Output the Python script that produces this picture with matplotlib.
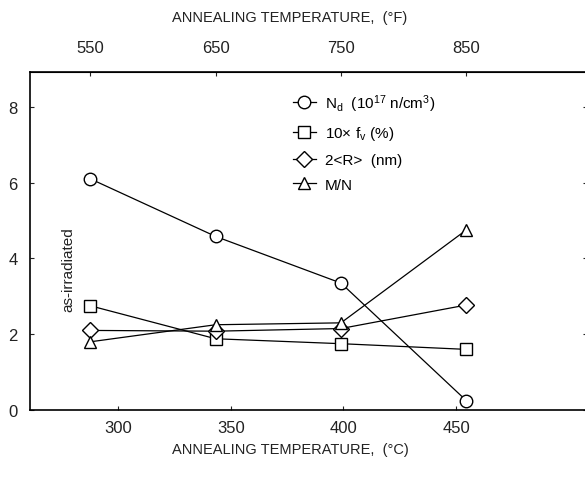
import matplotlib
matplotlib.use('Agg')
from matplotlib import pyplot as plt

plt.rcParams['font.family'] = ['Liberation Sans', 'DejaVu Sans']
plt.rcParams['mathtext.default'] = 'regular'

# annealing temperatures (deg F) -> deg C
temp_f = [550, 650, 750, 850]
temp_c = [(f - 32) * 5 / 9 for f in temp_f]

n_d = [6.1, 4.58, 3.35, 0.25]     # N_d (1e17 n/cm3)
f_v = [2.75, 1.88, 1.75, 1.6]     # 10 x f_v (%)
r_mean = [2.1, 2.08, 2.15, 2.77]  # 2<R> (nm)
m_n = [1.8, 2.25, 2.3, 4.75]      # M/N

labels = [r'N$_d$  (10$^{17}$ n/cm$^3$)', r'10$\times$ f$_v$ (%)',
          '2<R>  (nm)', 'M/N']
markers = ['o', 's', 'D', '^']
msizes = [9, 9, 8, 9]

txt = '#222222'

fig = plt.figure(figsize=(5.85, 4.81), dpi=100)
ax = fig.add_axes([30 / 585, 70 / 481, 557 / 585, 338 / 481])

for ys, mk, ms, lab in zip([n_d, f_v, r_mean, m_n], markers, msizes, labels):
    ax.plot(temp_c, ys, color='black', lw=0.9, marker=mk, ms=ms,
            mfc='white', mec='black', mew=1.0, label=lab)

ax.set_xlim(261, 508)
ax.set_ylim(0, 8.92)
ax.set_xticks([300, 350, 400, 450])
ax.set_yticks([0, 2, 4, 6, 8])
ax.tick_params(direction='in', length=3, labelsize=12, right=True,
               colors=txt)
ax.tick_params(axis='x', pad=7)
ax.tick_params(axis='y', pad=9)

ax.set_xlabel('ANNEALING TEMPERATURE,  (°C)', fontsize=10.5, x=0.467,
              labelpad=5, color=txt)

top = ax.secondary_xaxis('top', functions=(lambda c: c * 9 / 5 + 32,
                                           lambda f: (f - 32) * 5 / 9))
top.set_xticks(temp_f)
top.tick_params(direction='in', length=3, labelsize=12, pad=12,
                colors=txt)
top.set_xlabel('ANNEALING TEMPERATURE,  (°F)', fontsize=10.5, x=0.467,
               labelpad=14, color=txt)

fig.text(68 / 585, 1 - 270 / 481, 'as-irradiated', rotation=90,
         fontsize=11, ha='center', va='center', color=txt)

ax.legend(loc='upper left', bbox_to_anchor=(293 / 585, 1 - 93 / 481),
          bbox_transform=fig.transFigure, frameon=False, fontsize=11,
          handlelength=1.5, handletextpad=0.6, labelspacing=0.7,
          borderaxespad=0, borderpad=0)

for s in ax.spines.values():
    s.set_linewidth(1.2)

plt.savefig('out.png', dpi=100)
